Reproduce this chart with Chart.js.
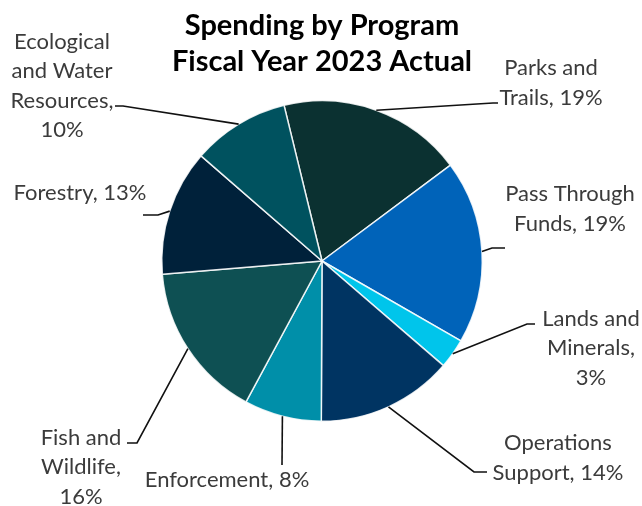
<!DOCTYPE html>
<html>
<head>
<meta charset="utf-8">
<title>Spending by Program</title>
<script src="https://cdn.jsdelivr.net/npm/chart.js@4.4.1/dist/chart.umd.min.js"></script>
<style>
	html, body { margin: 0; padding: 0; background: #fff; }
	#wrap { width: 642px; height: 506px; }
</style>
</head>
<body>
<div id="wrap"><canvas id="spending"></canvas></div>
<script>
const titleLines = ["Spending by Program", "Fiscal Year 2023 Actual"];
const programs = [
	"Parks and Trails",
	"Pass Through Funds",
	"Lands and Minerals",
	"Operations Support",
	"Enforcement",
	"Fish and Wildlife",
	"Forestry",
	"Ecological and Water Resources",
];
// share of spending, %
const shares = [18.6, 18.5, 3.0, 13.75, 7.8, 15.8, 12.7, 9.8];
const sliceColors = ["#0b3131", "#0063b9", "#00c5eb", "#003462", "#008fa9", "#0e5053", "#00213a", "#00525f"];

// where each label sits, px from the pie centre; wrap = max line width
const labelSpots = [
	{ at: [229, -178], wrap: 130, elbow: [171, -158], tail: [176, -158] },
	{ at: [248, -52], wrap: 155, elbow: [170, -13], tail: [183, -13] },
	{ at: [269, 87], wrap: 112, elbow: [205, 63], tail: [213, 63] },
	{ at: [236, 197], wrap: 165, elbow: [152, 211], tail: [165, 211] },
	{ at: [-95, 219], wrap: 400, elbow: [-40, 204], tail: [-40, 204] },
	{ at: [-241, 206], wrap: 100, elbow: [-185, 182], tail: [-195, 182] },
	{ at: [-242, -68], wrap: 400, elbow: [-164, -46], tail: [-179, -46] },
	{ at: [-260, -175], wrap: 120, elbow: [-199, -155], tail: [-207, -155] },
];
const lineGap = 29.5;

const wrapText = (ctx, text, maxWidth) => {
	const words = text.split(" ");
	const lines = [];
	let cur = "";
	words.forEach((w) => {
		const test = cur ? cur + " " + w : w;
		if (cur && ctx.measureText(test).width > maxWidth) {
			lines.push(cur);
			cur = w;
		} else {
			cur = test;
		}
	});
	if (cur) lines.push(cur);
	return lines;
};

// Excel-style labels outside the pie with leader lines
const outsideLabels = {
	id: "outsideLabels",
	afterDatasetsDraw(chart) {
		const { ctx } = chart;
		const arcs = chart.getDatasetMeta(0).data;
		const total = shares.reduce((a, b) => a + b, 0);
		ctx.save();
		ctx.font = "22px Lato";
		arcs.forEach((arc, i) => {
			const { x, y, startAngle, endAngle, outerRadius } = arc.getProps(
				["x", "y", "startAngle", "endAngle", "outerRadius"],
				true
			);
			const mid = (startAngle + endAngle) / 2;
			const spot = labelSpots[i];

			ctx.beginPath();
			ctx.moveTo(x + Math.cos(mid) * outerRadius, y + Math.sin(mid) * outerRadius);
			ctx.lineTo(x + spot.elbow[0], y + spot.elbow[1]);
			ctx.lineTo(x + spot.tail[0], y + spot.tail[1]);
			ctx.strokeStyle = "#111";
			ctx.lineWidth = 1.6;
			ctx.stroke();

			const pct = Math.round((shares[i] / total) * 100);
			const lines = wrapText(ctx, programs[i] + ", " + pct + "%", spot.wrap);
			ctx.fillStyle = "#3b3b3b";
			ctx.textAlign = "center";
			ctx.textBaseline = "middle";
			const top = y + spot.at[1] - ((lines.length - 1) * lineGap) / 2;
			lines.forEach((ln, k) => ctx.fillText(ln, x + spot.at[0], top + k * lineGap));
		});
		ctx.restore();
	},
};

new Chart(document.getElementById("spending"), {
	type: "pie",
	data: {
		labels: programs,
		datasets: [
			{
				data: shares,
				backgroundColor: sliceColors,
				borderColor: "rgba(255, 255, 255, 0.85)",
				borderWidth: 1.5,
			},
		],
	},
	options: {
		responsive: true,
		maintainAspectRatio: false,
		animation: false,
		rotation: -13.7,
		layout: {
			padding: { left: 161, right: 159, top: 0, bottom: 84 },
		},
		plugins: {
			legend: { display: false },
			tooltip: { enabled: false },
			title: {
				display: true,
				text: titleLines,
				color: "#000",
				font: { family: "Lato", weight: "bold", size: 29, lineHeight: 36 / 29 },
				padding: { top: 8, bottom: 20 },
			},
		},
	},
	plugins: [outsideLabels],
});
</script>
</body>
</html>
